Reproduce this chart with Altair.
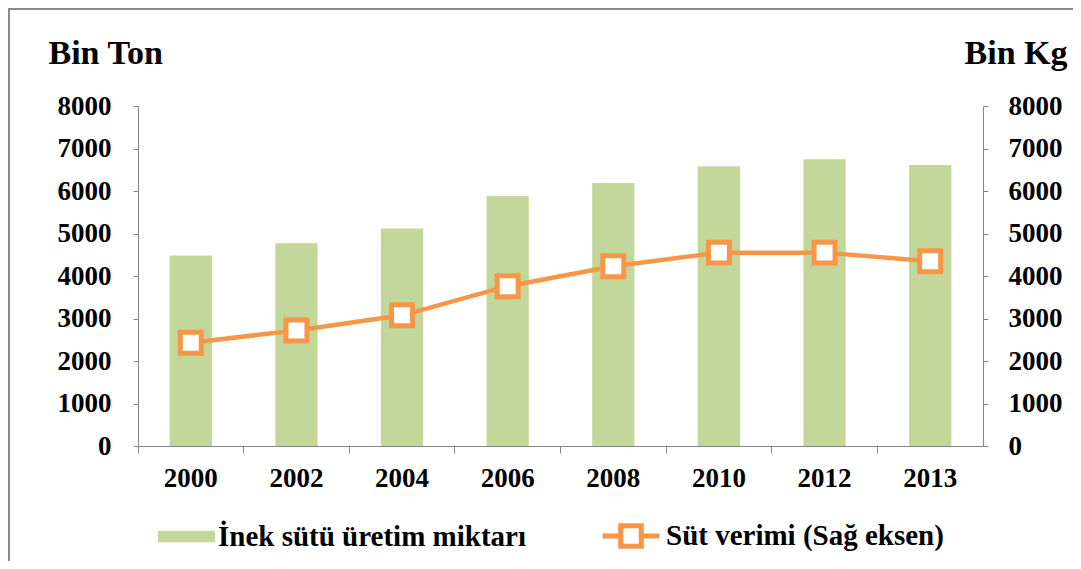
import altair as alt
import pandas as pd

years = ["2000", "2002", "2004", "2006", "2008", "2010", "2012", "2013"]
uretim = [4480, 4770, 5120, 5880, 6190, 6580, 6750, 6610]   # Bin Ton (left axis)
verim = [2430, 2720, 3075, 3760, 4230, 4550, 4550, 4345]    # Bin Kg (right axis)
seri_bar = "İnek sütü üretim miktarı"
seri_line = "Süt verimi (Sağ eksen)"
y_ticks = [0, 1000, 2000, 3000, 4000, 5000, 6000, 7000, 8000]

GREEN = "#C4D79B"
ORANGE = "#F79646"
AXIS = "#868686"
FONT = "Liberation Serif"

df = pd.DataFrame({"yil": years, "uretim": uretim, "verim": verim,
                   "s1": [seri_bar] * len(years), "s2": [seri_line] * len(years)})

x_enc = alt.X("yil:N", sort=years, title=None,
              scale=alt.Scale(paddingInner=0, paddingOuter=0),
              axis=alt.Axis(bandPosition=0, labelAngle=0, domainColor=AXIS, tickColor=AXIS,
                            tickSize=7, labelPadding=12, labelFont=FONT, labelFontSize=27,
                            labelFontWeight="bold", labelColor="black", labelBound=False))

bars = alt.Chart(df).mark_bar(width=alt.RelativeBandSize(0.4)).encode(
    x=x_enc,
    y=alt.Y("uretim:Q", scale=alt.Scale(domain=[0, 8000], nice=False),
            axis=alt.Axis(values=y_ticks, format="d", grid=False, domainColor=AXIS, tickColor=AXIS,
                          tickSize=5, labelPadding=22, labelFont=FONT, labelFontSize=27,
                          labelFontWeight="bold", labelColor="black",
                          title="Bin Ton", titleAngle=0, titleX=-90, titleY=-43,
                          titleAlign="left", titleBaseline="alphabetic", titleFont=FONT,
                          titleFontSize=34, titleFontWeight="bold", titleColor="black")),
    color=alt.Color("s1:N", scale=alt.Scale(domain=[seri_bar], range=[GREEN]),
                    legend=alt.Legend(title=None, orient="none", legendX=20, legendY=402,
                                      symbolType="M-1,-0.2H1V0.2H-1Z", symbolSize=3249,
                                      symbolStrokeWidth=0, labelOffset=3, labelFont=FONT,
                                      labelFontSize=29, labelFontWeight="bold", labelLimit=0,
                                      labelColor="black", padding=0))
)

y_right = alt.Y("verim:Q", scale=alt.Scale(domain=[0, 8000], nice=False),
                axis=alt.Axis(orient="right", values=y_ticks, format="d", grid=False,
                              domainColor=AXIS, tickColor=AXIS, tickSize=5, labelPadding=20,
                              labelFont=FONT, labelFontSize=27, labelFontWeight="bold",
                              labelColor="black",
                              title="Bin Kg", titleAngle=0, titleX=84, titleY=-43,
                              titleAlign="right", titleBaseline="alphabetic", titleFont=FONT,
                              titleFontSize=34, titleFontWeight="bold", titleColor="black"))

line = alt.Chart(df).mark_line(strokeWidth=4.5).encode(
    x=alt.X("yil:N", sort=years),
    y=y_right,
    stroke=alt.Stroke("s2:N", scale=alt.Scale(domain=[seri_line], range=[ORANGE]),
                      legend=alt.Legend(title=None, orient="none", legendX=462, legendY=399,
                                        symbolType="M-1,0H-0.36M0.36,0H1M-0.36,-0.36H0.36V0.36H-0.36Z",
                                        symbolSize=3249, symbolStrokeWidth=5,
                                        symbolFillColor="white", labelOffset=4,
                                        labelFont=FONT, labelFontSize=29, labelLimit=0,
                                        labelFontWeight="bold", labelColor="black", padding=0))
)

points = alt.Chart(df).mark_point(shape="square", filled=True, fill="white", stroke=ORANGE,
                                  strokeWidth=5, size=440, opacity=1).encode(
    x=alt.X("yil:N", sort=years),
    y=y_right
)

frame = alt.Chart(alt.Data(values=[{"k": 1}])).mark_rect(
    fill="transparent", stroke="#8C8C8C", strokeWidth=2
).encode(x=alt.value(-129), x2=alt.value(1000), y=alt.value(-97), y2=alt.value(600))

chart = alt.layer(
    frame, bars, alt.layer(line, points)
).resolve_scale(y="independent").properties(
    width=845, height=340,
    autosize=alt.AutoSizeParams(type="none"),
    padding={"left": 130, "top": 98, "right": 90, "bottom": 115}
).configure_view(stroke=None)

chart.save("out.html", embed_options={"renderer": "svg", "actions": False})
